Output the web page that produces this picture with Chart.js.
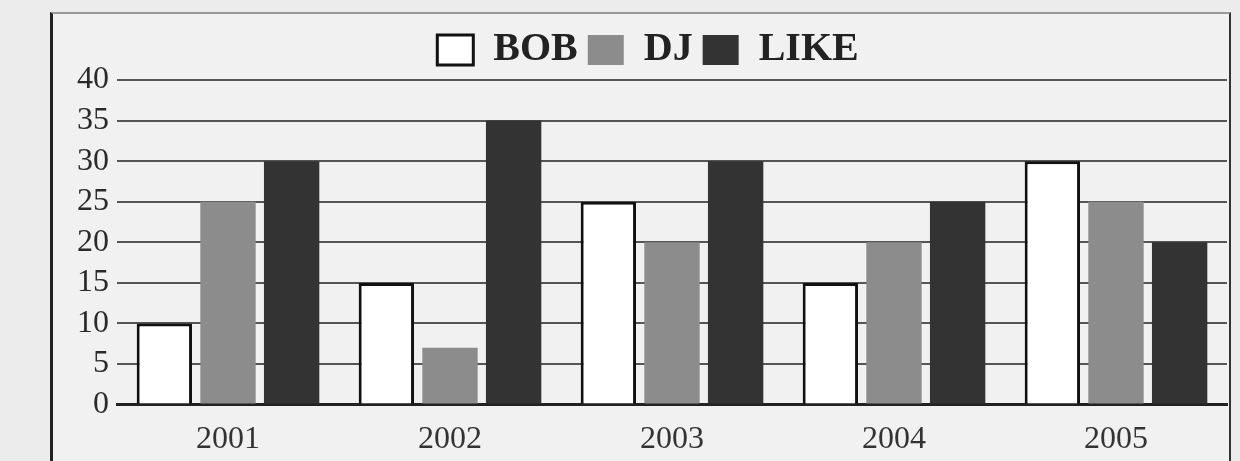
<!DOCTYPE html>
<html>
<head>
<meta charset="utf-8">
<script src="https://cdn.jsdelivr.net/npm/chart.js@4/dist/chart.umd.min.js"></script>
<style>
  html, body { margin: 0; padding: 0; background: #ececec; }
  body { width: 1240px; height: 461px; overflow: hidden; position: relative; }
  #frame {
    position: absolute; left: 50px; top: 12px; width: 1176px; height: 460px;
    border-left: 3px solid #222; border-top: 2px solid #999; border-right: 2px solid #333;
    background: #f1f1f1;
  }
  #wrap { position: absolute; left: 0; top: 0; width: 1176px; height: 461px; }
</style>
</head>
<body>
<div id="frame"><div id="wrap"><canvas id="chart"></canvas></div></div>
<script>
// chart data
const years = ["2001", "2002", "2003", "2004", "2005"];
const bobValues = [10, 15, 25, 15, 30];
const djValues = [25, 7, 20, 20, 25];
const likeValues = [30, 35, 30, 25, 20];
const yTicks = [0, 5, 10, 15, 20, 25, 30, 35, 40];

const serif = "'Liberation Serif', 'DejaVu Serif', serif";

const ctx = document.getElementById("chart").getContext("2d");
const myChart = new Chart(ctx, {
  type: "bar",
  data: {
    labels: years,
    datasets: [
      {
        label: "BOB",
        data: bobValues,
        backgroundColor: "#ffffff",
        borderColor: "#111111",
        borderWidth: 3,
      },
      {
        label: "DJ",
        data: djValues,
        backgroundColor: "#8c8c8c",
        borderColor: "#8c8c8c",
        borderWidth: 0,
      },
      {
        label: "LIKE",
        data: likeValues,
        backgroundColor: "#333333",
        borderColor: "#333333",
        borderWidth: 0,
      },
    ],
  },
  options: {
    responsive: true,
    maintainAspectRatio: false,
    animation: false,
    layout: { padding: { left: 16, right: 2, top: 6, bottom: 0 } },
    datasets: {
      bar: { categoryPercentage: 0.86, barPercentage: 0.87 },
    },
    plugins: {
      tooltip: { enabled: false },
      legend: {
        position: "top",
        labels: {
          boxWidth: 36,
          boxHeight: 30,
          padding: 10,
          color: "#222",
          font: { family: serif, size: 40, weight: "bold" },
          generateLabels: function (chart) {
            return chart.data.datasets.map(function (ds, i) {
              return {
                text: ds.label,
                fillStyle: ds.backgroundColor,
                strokeStyle: i === 0 ? "#111" : ds.backgroundColor,
                lineWidth: i === 0 ? 3 : 0,
                datasetIndex: i,
                fontColor: "#222",
              };
            });
          },
        },
      },
    },
    scales: {
      x: {
        grid: { display: false, drawTicks: false },
        border: { display: true, color: "#222", width: 3 },
        ticks: {
          color: "#333",
          padding: 16,
          font: { family: serif, size: 32 },
        },
      },
      y: {
        min: 0,
        max: 40,
        afterBuildTicks: function (axis) {
          axis.ticks = yTicks.map(function (v) {
            return { value: v };
          });
        },
        grid: { color: "#555", lineWidth: 2, drawTicks: false },
        border: { display: false },
        ticks: {
          autoSkip: false,
          color: "#2a2a2a",
          padding: 8,
          font: { family: serif, size: 32 },
        },
      },
    },
  },
});
</script>
</body>
</html>
